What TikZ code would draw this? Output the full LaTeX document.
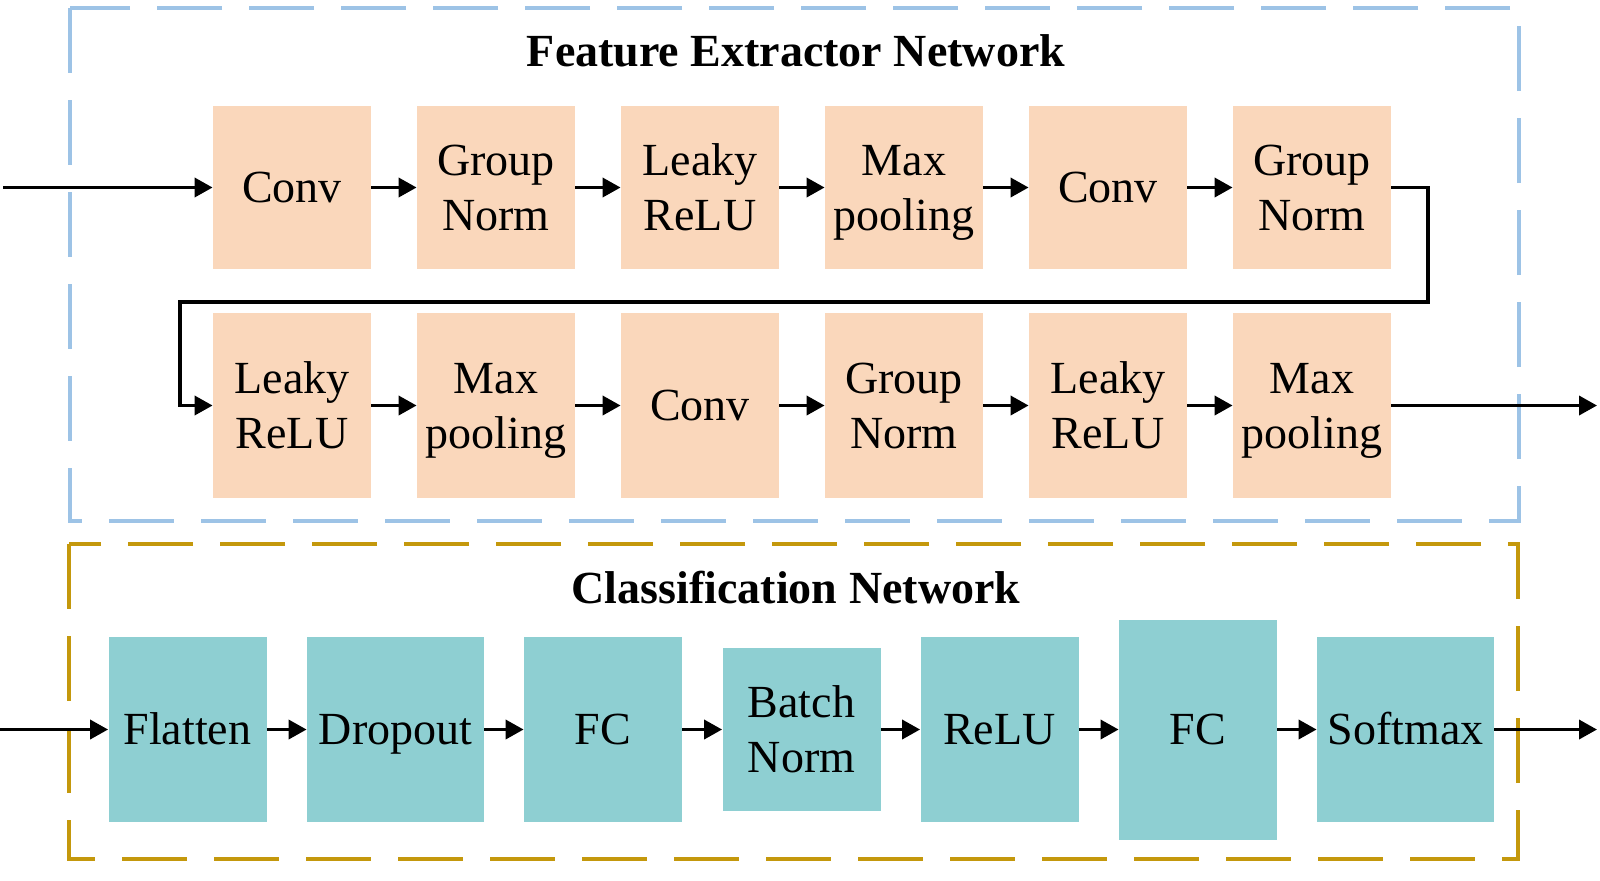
\documentclass[tikz,border=0pt]{standalone}
\usepackage{fontspec}
\setmainfont{Liberation Serif}
\usetikzlibrary{arrows.meta}
\definecolor{boxorange}{RGB}{250,215,187}
\definecolor{boxteal}{RGB}{142,207,210}
\definecolor{frameblue}{RGB}{157,195,230}
\definecolor{framegold}{RGB}{196,152,12}
\newcommand{\bs}{\rule[-6pt]{0pt}{27.2pt}}
\begin{document}
\begin{tikzpicture}[x=0.5pt,y=-0.5pt,
  txt/.style={font=\fontsize{23}{27.5}\selectfont, align=center, text=black},
  fe/.style={txt, fill=boxorange, draw=none, inner sep=0pt, minimum width=79pt},
  fe1/.style={fe, minimum height=81.5pt},
  fe2/.style={fe, minimum height=92.5pt},
  cl/.style={txt, fill=boxteal, draw=none, inner sep=0pt, minimum width=79pt, minimum height=92.5pt},
  clwide/.style={cl, minimum width=88.5pt},
  frame/.style={line width=1.6pt, dash pattern=on 32.5pt off 13.5pt},
  arr/.style={line width=1.8pt, -{Triangle[length=9pt,width=9.5pt]}},
  ttl/.style={font=\fontsize{23}{27}\selectfont\bfseries, anchor=base, inner sep=0pt}
]
\useasboundingbox (0,0) rectangle (1600,880);
% frames
\draw[frame, draw=frameblue] (70,8) -- (70,521) -- (1519,521) -- (1519,8) -- cycle;
\draw[frame, draw=framegold] (69,544) -- (69,859) -- (1518,859) -- (1518,544) -- cycle;
% titles
\node[ttl] (t1) at (796,66) {Feature Extractor Network};
\node[ttl] (t2) at (796,603) {Classification Network};
% row 1
\node[fe1] (a1) at (292,187.5) {\bs Conv};
\node[fe1] (a2) at (496,187.5) {\bs Group\\\bs Norm};
\node[fe1] (a3) at (700,187.5) {\bs Leaky\\\bs ReLU};
\node[fe1] (a4) at (904,187.5) {\bs Max\\\bs pooling};
\node[fe1] (a5) at (1108,187.5) {\bs Conv};
\node[fe1] (a6) at (1312,187.5) {\bs Group\\\bs Norm};
% row 2
\node[fe2] (b1) at (292,405.5) {\bs Leaky\\\bs ReLU};
\node[fe2] (b2) at (496,405.5) {\bs Max\\\bs pooling};
\node[fe2] (b3) at (700,405.5) {\bs Conv};
\node[fe2] (b4) at (904,405.5) {\bs Group\\\bs Norm};
\node[fe2] (b5) at (1108,405.5) {\bs Leaky\\\bs ReLU};
\node[fe2] (b6) at (1312,405.5) {\bs Max\\\bs pooling};
% classification
\node[cl] (c1) at (187.5,729.5) {\bs Flatten};
\node[clwide] (c2) at (395.5,729.5) {\bs Dropout};
\node[cl] (c3) at (603,729.5) {\bs FC};
\node[cl, minimum height=81.5pt] (c4) at (801.5,729.5) {\bs Batch\\\bs Norm};
\node[cl] (c5) at (999.5,729.5) {\bs ReLU};
\node[cl, minimum height=110pt] (c6) at (1198,729.5) {\bs FC};
\node[clwide] (c7) at (1405.5,729.5) {\bs Softmax};
% coordinates
\coordinate (in1) at (3,187.5);
\coordinate (bendR) at (1428,302);
\coordinate (bendL) at (180,302);
\coordinate (out1) at (1597,405.5);
\coordinate (in2) at (0,729.5);
\coordinate (out2) at (1597,729.5);
% arrows
\draw[arr] (in1) -- (a1.west);
\draw[arr] (a1) -- (a2);
\draw[arr] (a2) -- (a3);
\draw[arr] (a3) -- (a4);
\draw[arr] (a4) -- (a5);
\draw[arr] (a5) -- (a6);
\draw[arr] (a6.east) -| (bendR) -- (bendL) |- (b1.west);
\draw[arr] (b1) -- (b2);
\draw[arr] (b2) -- (b3);
\draw[arr] (b3) -- (b4);
\draw[arr] (b4) -- (b5);
\draw[arr] (b5) -- (b6);
\draw[arr] (b6.east) -- (out1);
\draw[arr] (in2) -- (c1.west);
\draw[arr] (c1) -- (c2);
\draw[arr] (c2) -- (c3);
\draw[arr] (c3) -- (c4);
\draw[arr] (c4) -- (c5);
\draw[arr] (c5) -- (c6);
\draw[arr] (c6) -- (c7);
\draw[arr] (c7.east) -- (out2);
\end{tikzpicture}
\end{document}
